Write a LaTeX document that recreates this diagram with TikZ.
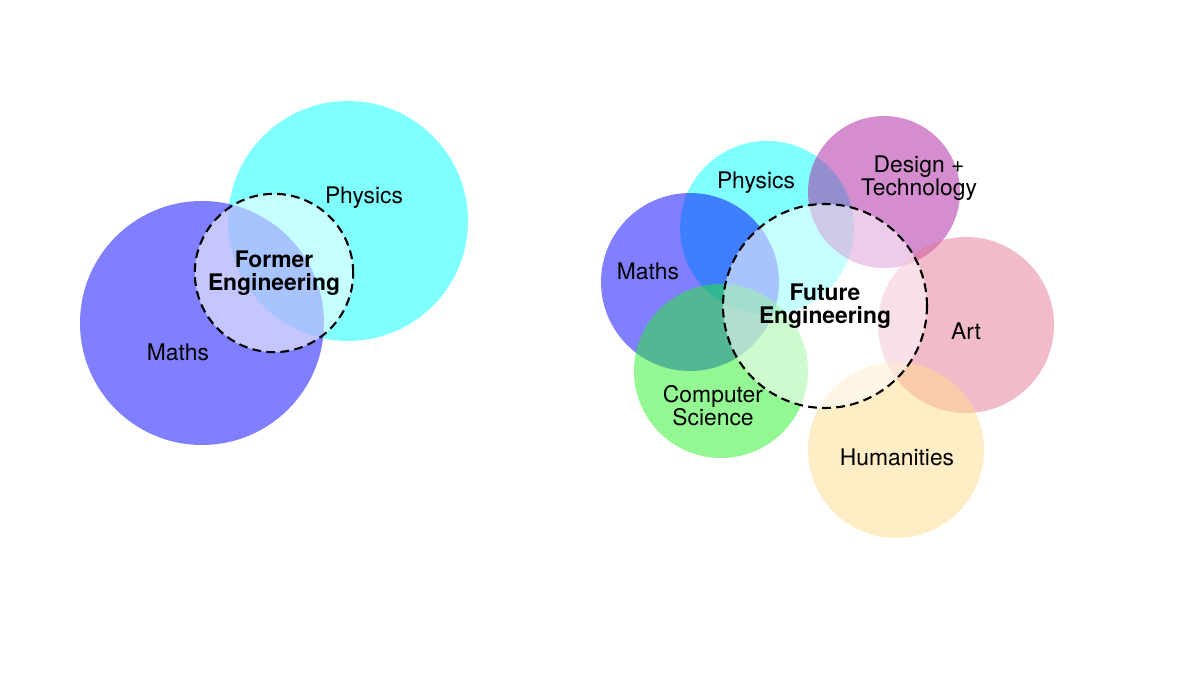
\documentclass[tikz,border=0pt]{standalone}
\usepackage{fontspec}
\setmainfont{TeX Gyre Heros}
\usepackage{tikz}
\definecolor{mathsc}{RGB}{0,0,255}
\definecolor{physc}{RGB}{0,255,255}
\definecolor{designc}{RGB}{170,30,160}
\definecolor{artc}{RGB}{230,120,150}
\definecolor{csc}{RGB}{40,240,40}
\definecolor{humc}{RGB}{255,220,140}
\tikzset{
  blob/.style = {circle, draw = none, fill opacity = .5, text opacity = 1, inner sep = 0},
  core/.style = {circle, draw, very thick, dash pattern = on 5pt off 3pt, fill = white,
                 fill opacity = .55, text opacity = 1, align = center, font = \bfseries}
}
\begin{document}
\begin{tikzpicture}[x = .02cm, y = -.02cm]
    \fontsize{13}{15}\selectfont
    \useasboundingbox (0, 0) rectangle (1200, 675);
    %% former
    \node[blob, fill = physc, minimum size = 240*.02cm] (phys1) at (348, 221) {};
    \node[blob, fill = mathsc, minimum size = 244*.02cm] (maths1) at (202, 323) {};
    \node (physl1) at (364, 198) {Physics};
    \node (mathsl1) at (178, 352) {Maths};
    \node[core, minimum size = 136*.02cm] (former) at (274, 273) {Former\\[-2pt]Engineering};

    %% future
    \node[blob, fill = physc, minimum size = 174*.02cm] (phys2) at (767, 228) {};
    \node[blob, fill = designc, minimum size = 152*.02cm] (design) at (884, 192) {};
    \node[blob, fill = mathsc, minimum size = 178*.02cm] (maths2) at (690, 282) {};
    \node[blob, fill = artc, minimum size = 176*.02cm] (art) at (966, 325) {};
    \node[blob, fill = csc, minimum size = 174*.02cm] (cs) at (721, 371) {};
    \node[blob, fill = humc, minimum size = 176*.02cm] (hum) at (896, 450) {};
    \node[core, minimum size = 204*.02cm] (future) at (825, 306) {Future\\[-2pt]Engineering};
    \node (physl2) at (756, 183) {Physics};
    \node[align = center] (designl) at (919, 178) {Design +\\[-2pt]Technology};
    \node (mathsl2) at (648, 271) {Maths};
    \node (artl) at (966, 331) {Art};
    \node[align = center] (csl) at (713, 406) {Computer\\[-2pt]Science};
    \node (huml) at (897, 457) {Humanities};
\end{tikzpicture}
\end{document}
